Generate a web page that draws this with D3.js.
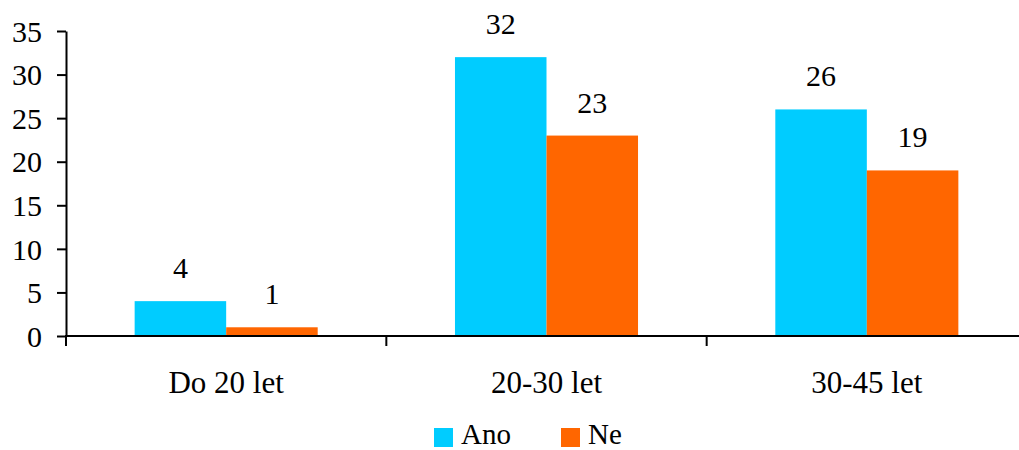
<!DOCTYPE html>
<html>
<head>
<meta charset="utf-8">
<script src="https://cdn.jsdelivr.net/npm/d3@7"></script>
<style>
  html, body { margin: 0; padding: 0; background: #fff; }
  text { font-family: "Liberation Serif", serif; }
</style>
</head>
<body>
<svg id="chart" width="1019" height="450" font-family="Liberation Serif"></svg>
<script>
// Age groups and answers per group
const categories = ["Do 20 let", "20-30 let", "30-45 let"];
const seriesNames = ["Ano", "Ne"];
const anoValues = [4, 32, 26];
const neValues = [1, 23, 19];
const yTicks = [0, 5, 10, 15, 20, 25, 30, 35];
const colors = ["#00CCFF", "#FF6600"];

const svg = d3.select("#chart");
const plotLeft = 66, plotRight = 1027, plotTop = 31, plotBottom = 336;

const x = d3.scaleBand().domain(categories).range([plotLeft, plotRight]).paddingInner(0).paddingOuter(0);
const xs = d3.scaleBand().domain(seriesNames).range([0, x.bandwidth()]).paddingInner(0).paddingOuter(0.75);
const y = d3.scaleLinear().domain([0, 35]).range([plotBottom, plotTop]);

const rows = categories.map((c, i) => ({ cat: c, vals: [anoValues[i], neValues[i]] }));

// Bars
const groups = svg.append("g").selectAll("g").data(rows).join("g")
  .attr("transform", d => `translate(${x(d.cat)},0)`);
groups.selectAll("rect").data(d => d.vals.map((v, k) => ({ k, v }))).join("rect")
  .attr("x", d => xs(seriesNames[d.k]))
  .attr("width", xs.bandwidth())
  .attr("y", d => y(d.v))
  .attr("height", d => y(0) - y(d.v))
  .attr("fill", d => colors[d.k]);

// Value labels
groups.selectAll("text.val").data(d => d.vals.map((v, k) => ({ k, v }))).join("text")
  .attr("class", "val")
  .attr("x", d => xs(seriesNames[d.k]) + xs.bandwidth() / 2)
  .attr("y", d => y(d.v) - 23)
  .attr("text-anchor", "middle")
  .attr("font-size", 30)
  .attr("fill", "#000")
  .text(d => d.v);

// Y axis
const yAxis = svg.append("g").attr("transform", `translate(${plotLeft},0)`)
  .call(d3.axisLeft(y).tickValues(yTicks).tickSize(9).tickPadding(15).tickSizeOuter(0));
yAxis.attr("font-family", null).attr("font-size", 30);
yAxis.select(".domain").attr("stroke", "#000").attr("stroke-width", 2);
yAxis.selectAll(".tick line").attr("stroke", "#000").attr("stroke-width", 2);
yAxis.selectAll(".tick text").attr("font-size", 30).attr("fill", "#000").attr("dy", "0.34em");

// X axis with ticks at category boundaries
const xAxisG = svg.append("g").attr("transform", `translate(0,${plotBottom})`);
xAxisG.append("line").attr("x1", plotLeft - 1).attr("x2", plotRight).attr("y1", 0).attr("y2", 0)
  .attr("stroke", "#000").attr("stroke-width", 2);
const boundaries = categories.map(c => x(c)).concat([x(categories[categories.length - 1]) + x.bandwidth()]);
xAxisG.selectAll("line.tk").data(boundaries).join("line").attr("class", "tk")
  .attr("x1", d => d).attr("x2", d => d).attr("y1", 0).attr("y2", 10)
  .attr("stroke", "#000").attr("stroke-width", 2);
xAxisG.selectAll("text.cat").data(categories).join("text").attr("class", "cat")
  .attr("x", d => x(d) + x.bandwidth() / 2)
  .attr("y", 57)
  .attr("text-anchor", "middle")
  .attr("font-size", 31)
  .attr("fill", "#000")
  .text(d => d);

// Legend
const legend = svg.append("g");
const legendX = [434, 561];
seriesNames.forEach((s, i) => {
  legend.append("rect").attr("x", legendX[i]).attr("y", 428).attr("width", 19).attr("height", 19).attr("fill", colors[i]);
  legend.append("text").attr("x", legendX[i] + 27).attr("y", 444)
    .attr("font-size", 29).attr("fill", "#000").text(s);
});
</script>
</body>
</html>
